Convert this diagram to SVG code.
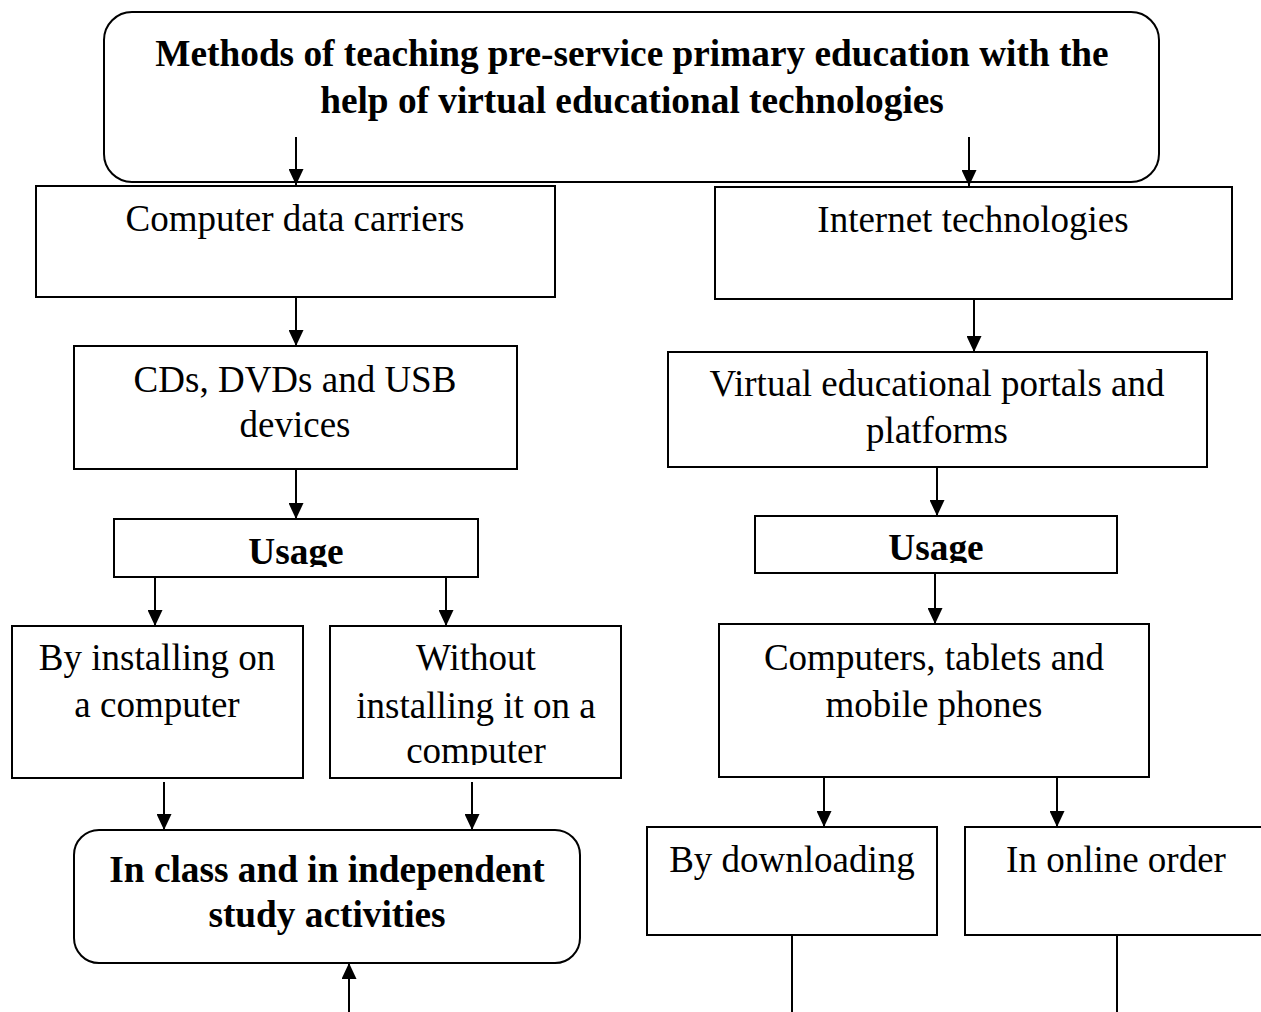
<svg xmlns="http://www.w3.org/2000/svg" width="1261" height="1012" viewBox="0 0 1261 1012">
<style>
.box{fill:#fff;stroke:#000;stroke-width:2}
.t{font-family:"Liberation Serif","Times New Roman",serif;font-size:37px;fill:#000;text-anchor:middle}
.b{font-family:"Liberation Serif","Times New Roman",serif;font-size:37.3px;font-weight:bold;fill:#000;text-anchor:middle}
.c{fill:none;stroke:#000;stroke-width:2}
</style>
<defs>
<marker id="ah" viewBox="0 0 16 15" refX="16" refY="7.5" markerWidth="16" markerHeight="15" markerUnits="userSpaceOnUse" orient="auto">
<path d="M0,0 L16,7.5 L0,15 Z" fill="#000"/>
</marker>
<clipPath id="clipU1"><rect x="110" y="515" width="372" height="52"/></clipPath>
<clipPath id="clipU2"><rect x="750" y="512" width="372" height="51"/></clipPath>
<clipPath id="clipW"><rect x="332" y="620" width="288" height="145"/></clipPath>
</defs>
<rect width="1261" height="1012" fill="#fff"/>

<g id="n-title">
<rect class="box" x="104" y="12" width="1055" height="170" rx="28" ry="28"/>
<text class="b" x="632" y="66">Methods of teaching pre-service primary education with the</text>
<text class="b" x="632" y="113">help of virtual educational technologies</text>
</g>

<g id="n-computer-data">
<rect class="box" x="36" y="186" width="519" height="111"/>
<text class="t" x="295" y="231">Computer data carriers</text>
</g>

<g id="n-internet">
<rect class="box" x="715" y="187" width="517" height="112"/>
<text class="t" x="973" y="232">Internet technologies</text>
</g>

<g id="n-cds">
<rect class="box" x="74" y="346" width="443" height="123"/>
<text class="t" x="295" y="392">CDs, DVDs and USB</text>
<text class="t" x="295" y="437">devices</text>
</g>

<g id="n-portals">
<rect class="box" x="668" y="352" width="539" height="115"/>
<text class="t" x="937" y="396">Virtual educational portals and</text>
<text class="t" x="937" y="443">platforms</text>
</g>

<g id="n-usage-left">
<rect class="box" x="114" y="519" width="364" height="58"/>
<text class="b" x="296" y="564" clip-path="url(#clipU1)">Usage</text>
</g>

<g id="n-usage-right">
<rect class="box" x="755" y="516" width="362" height="57"/>
<text class="b" x="936" y="560" clip-path="url(#clipU2)">Usage</text>
</g>

<g id="n-installing">
<rect class="box" x="12" y="626" width="291" height="152"/>
<text class="t" x="157" y="670">By installing on</text>
<text class="t" x="157" y="717">a computer</text>
</g>

<g id="n-without">
<rect class="box" x="330" y="626" width="291" height="152"/>
<g clip-path="url(#clipW)">
<text class="t" x="476" y="670">Without</text>
<text class="t" x="476" y="718">installing it on a</text>
<text class="t" x="476" y="763">computer</text>
</g>
</g>

<g id="n-devices">
<rect class="box" x="719" y="624" width="430" height="153"/>
<text class="t" x="934" y="670">Computers, tablets and</text>
<text class="t" x="934" y="717">mobile phones</text>
</g>

<g id="n-class">
<rect class="box" x="74" y="830" width="506" height="133" rx="25" ry="25"/>
<text class="b" x="327" y="882">In class and in independent</text>
<text class="b" x="327" y="927">study activities</text>
</g>

<g id="n-downloading">
<rect class="box" x="647" y="827" width="290" height="108"/>
<text class="t" x="792" y="872">By downloading</text>
</g>

<g id="n-online">
<rect class="box" x="965" y="827" width="300" height="108"/>
<text class="t" x="1116" y="872">In online order</text>
</g>

<g id="connectors">
<line class="c" x1="296" y1="137" x2="296" y2="185" marker-end="url(#ah)"/>
<line class="c" x1="969" y1="137" x2="969" y2="186" marker-end="url(#ah)"/>
<line class="c" x1="296" y1="297" x2="296" y2="346" marker-end="url(#ah)"/>
<line class="c" x1="974" y1="299" x2="974" y2="352" marker-end="url(#ah)"/>
<line class="c" x1="296" y1="469" x2="296" y2="519" marker-end="url(#ah)"/>
<line class="c" x1="937" y1="467" x2="937" y2="516" marker-end="url(#ah)"/>
<line class="c" x1="155" y1="577" x2="155" y2="626" marker-end="url(#ah)"/>
<line class="c" x1="446" y1="577" x2="446" y2="626" marker-end="url(#ah)"/>
<line class="c" x1="935" y1="573" x2="935" y2="624" marker-end="url(#ah)"/>
<line class="c" x1="164" y1="782" x2="164" y2="830" marker-end="url(#ah)"/>
<line class="c" x1="472" y1="782" x2="472" y2="830" marker-end="url(#ah)"/>
<line class="c" x1="824" y1="777" x2="824" y2="827" marker-end="url(#ah)"/>
<line class="c" x1="1057" y1="777" x2="1057" y2="827" marker-end="url(#ah)"/>
<line class="c" x1="349" y1="1012" x2="349" y2="963" marker-end="url(#ah)"/>
<line class="c" x1="792" y1="935" x2="792" y2="1012"/>
<line class="c" x1="1117" y1="935" x2="1117" y2="1012"/>
</g>
</svg>
